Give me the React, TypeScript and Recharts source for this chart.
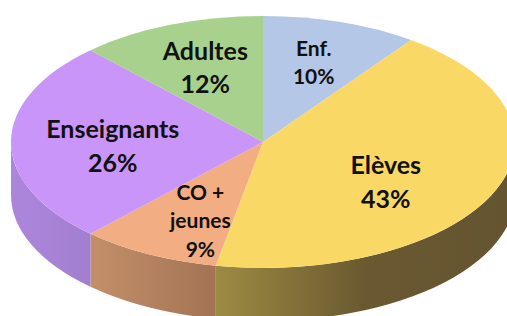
import React from 'react';
import { PieChart, Pie, Cell } from 'recharts';

const categories = ['Enf.', 'Elèves', 'CO + jeunes', 'Enseignants', 'Adultes'];
const shares = [10, 43, 9, 26, 12];
const labelLines = [['Enf.'], ['Elèves'], ['CO +', 'jeunes'], ['Enseignants'], ['Adultes']];

const topColors = ['#b4c7e7', '#fad866', '#f2ae82', '#c995f8', '#a9d18e'];
const wallColors = [
  ['#7e8ba2', '#6f7b90'],
  ['#9d8b43', '#6a5930', '#645430'],
  ['#c38f69', '#a27354'],
  ['#ac86dc', '#a27ecf'],
  ['#76925f', '#6a8455'],
];
// nudges for label blocks, px
const labelNudge = [[4, -9], [-16, 9], [6, 10], [1, 3], [-2, -5]];
const labelSize = [21, 25, 21, 25, 25];

const W = 507;
const H = 316;
const CX = 263;
const CY = 142;
const RX = 252;
const SQUASH = 0.5;
const DEPTH = 53;

const data = categories.map((name, i) => ({ name, value: shares[i] }));

const RAD = Math.PI / 180;

const pt = (cx: number, cy: number, rx: number, ry: number, a: number) => [
  cx + rx * Math.cos(a * RAD),
  cy - ry * Math.sin(a * RAD),
];

const SliceShape = (props: any) => {
  const { cx, cy, outerRadius, startAngle, endAngle, index } = props;
  const rx = outerRadius;
  const ry = outerRadius * SQUASH;
  const s = Math.max(startAngle, endAngle);
  const e = Math.min(startAngle, endAngle);
  const [x1, y1] = pt(cx, cy, rx, ry, s);
  const [x2, y2] = pt(cx, cy, rx, ry, e);
  const large = s - e > 180 ? 1 : 0;
  const top = `M${cx},${cy} L${x1},${y1} A${rx},${ry} 0 ${large} 1 ${x2},${y2} Z`;

  // visible front wall: angles between -180 and 0
  const a1 = Math.min(s, 0);
  const a2 = Math.max(e, -180);
  let wall = null;
  if (a1 > a2) {
    const [wx1, wy1] = pt(cx, cy, rx, ry, a1);
    const [wx2, wy2] = pt(cx, cy, rx, ry, a2);
    const wl = a1 - a2 > 180 ? 1 : 0;
    const d = `M${wx1},${wy1} A${rx},${ry} 0 ${wl} 1 ${wx2},${wy2} L${wx2},${wy2 + DEPTH} A${rx},${ry} 0 ${wl} 0 ${wx1},${wy1 + DEPTH} Z`;
    const stops = wallColors[index];
    const gid = `wall-${index}`;
    wall = (
      <g>
        <defs>
          <linearGradient id={gid} gradientUnits="userSpaceOnUse" x1={Math.min(wx1, wx2)} y1={0} x2={Math.max(wx1, wx2)} y2={0}>
            {stops.map((c, k) => (
              <stop key={k} offset={stops.length === 1 ? 0 : k / (stops.length - 1)} stopColor={c} />
            ))}
          </linearGradient>
        </defs>
        <path d={d} fill={`url(#${gid})`} />
      </g>
    );
  }

  return (
    <g>
      {wall}
      <path d={top} fill={topColors[index]} />
    </g>
  );
};

const renderLabel = (props: any) => {
  const { cx, cy, midAngle, outerRadius, index } = props;
  const k = 0.6;
  const [x0, y0] = pt(cx, cy, outerRadius * k, outerRadius * SQUASH * k, midAngle);
  const x = x0 + labelNudge[index][0];
  const y = y0 + labelNudge[index][1];
  const fs = labelSize[index];
  const lh = fs * 1.34;
  const lines = [...labelLines[index], `${shares[index]}%`];
  const startY = y - ((lines.length - 1) * lh) / 2;
  return (
    <text
      key={`lbl-${index}`}
      x={x}
      y={startY}
      textAnchor="middle"
      dominantBaseline="central"
      fontFamily="Lato, 'Open Sans', sans-serif"
      fontWeight="bold"
      fontSize={fs}
      fill="#111"
    >
      {lines.map((t, j) => (
        <tspan key={j} x={x} dy={j === 0 ? 0 : lh}>
          {t}
        </tspan>
      ))}
    </text>
  );
};

export default function App() {
  return (
    <div style={{ position: 'absolute', left: 0, top: 0, width: W, height: H, overflow: 'hidden', background: '#fff' }}>
      <PieChart width={W} height={H} margin={{ top: 0, right: 0, bottom: 0, left: 0 }}>
        <Pie
          data={data}
          dataKey="value"
          nameKey="name"
          cx={CX}
          cy={CY}
          outerRadius={RX}
          startAngle={90}
          endAngle={-270}
          stroke="none"
          shape={SliceShape}
          label={renderLabel}
          labelLine={false}
          isAnimationActive={false}
        >
          {data.map((d, i) => (
            <Cell key={d.name} fill={topColors[i]} />
          ))}
        </Pie>
      </PieChart>
    </div>
  );
}
